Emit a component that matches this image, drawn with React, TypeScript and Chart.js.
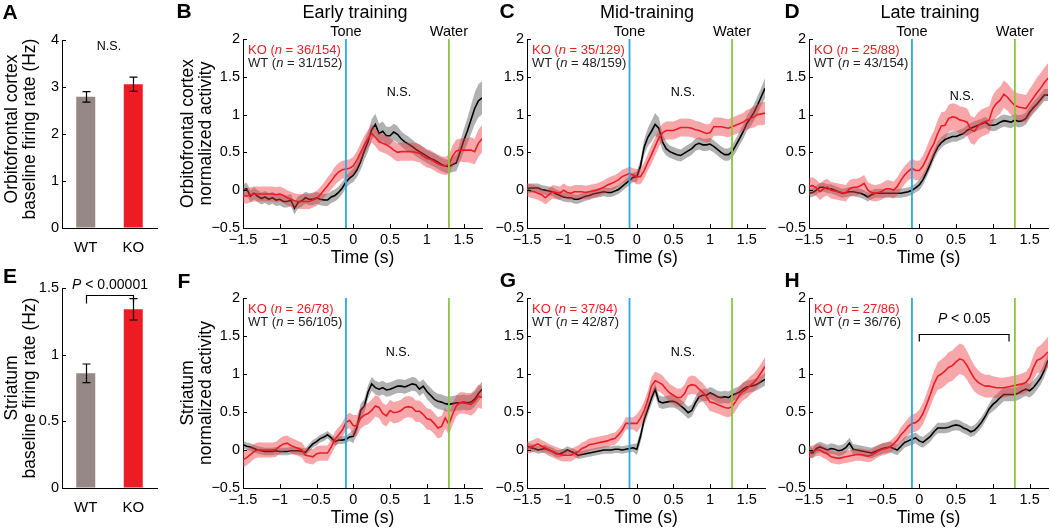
import React, { useEffect, useRef } from "react";
import { Chart, registerables } from "chart.js";

Chart.register(...registerables);

const W = 1050;
const H = 528;
const FONT = '"Liberation Sans", Arial, Helvetica, sans-serif';
const RED = "#ed1c24";
const RED_BAND = "rgba(238, 60, 66, 0.45)";
const GREY_BAND = "rgba(60, 60, 60, 0.40)";
const TONE_COLOR = "#27aae1";
const WATER_COLOR = "#8cc63f";
const WT_BAR_COLOR = "#958885";
const Y_AXIS_W = 40;
const X_AXIS_H = 30;

// ---------- data ----------
const TIME = [-1.5,-1.45,-1.4,-1.35,-1.3,-1.25,-1.2,-1.15,-1.1,-1.05,-1,-0.95,-0.9,-0.85,-0.8,-0.75,-0.7,-0.65,-0.6,-0.55,-0.5,-0.45,-0.4,-0.35,-0.3,-0.25,-0.2,-0.15,-0.1,-0.05,0,0.05,0.1,0.15,0.2,0.25,0.3,0.35,0.4,0.45,0.5,0.55,0.6,0.65,0.7,0.75,0.8,0.85,0.9,0.95,1,1.05,1.1,1.15,1.2,1.25,1.3,1.35,1.4,1.45,1.5,1.55,1.6,1.65,1.7,1.75];
const TIME_TICKS = [-1.5, -1, -0.5, 0, 0.5, 1, 1.5];
const ACTIVITY_TICKS = [-0.5, 0, 0.5, 1, 1.5, 2];
const TONE_T = -0.1;
const WATER_T = 1.3;

const GROUPS = ["WT", "KO"];
const OFC_RATE = [2.79, 3.06];
const OFC_RATE_ERR = [0.11, 0.15];
const OFC_RATE_TICKS = [0, 1, 2, 3, 4];
const STR_RATE = [0.86, 1.34];
const STR_RATE_ERR = [0.07, 0.08];
const STR_RATE_TICKS = [0, 0.5, 1, 1.5];

// B: OFC early training
const B_KO = [-0.07,-0.08,-0.06,-0.05,-0.05,-0.05,-0.05,-0.05,-0.05,-0.06,
-0.05,-0.07,-0.1,-0.12,-0.14,-0.15,-0.15,-0.15,-0.15,-0.13,
-0.11,-0.06,0.0,0.06,0.12,0.19,0.24,0.27,0.28,0.29,
0.32,0.4,0.5,0.6,0.68,0.75,0.7,0.64,0.62,0.6,
0.57,0.53,0.5,0.51,0.51,0.51,0.51,0.5,0.49,0.45,
0.42,0.41,0.38,0.35,0.33,0.32,0.34,0.45,0.52,0.53,
0.53,0.53,0.53,0.51,0.62,0.68];
const B_KO_SEM = [0.1,0.1,0.1,0.1,0.1,0.1,0.1,0.1,0.1,0.1,
0.1,0.1,0.1,0.1,0.1,0.1,0.1,0.1,0.1,0.1,
0.1,0.1,0.1,0.11,0.11,0.12,0.12,0.12,0.12,0.12,
0.12,0.12,0.12,0.12,0.12,0.12,0.12,0.12,0.12,0.12,
0.12,0.12,0.12,0.12,0.12,0.12,0.12,0.12,0.12,0.12,
0.12,0.12,0.12,0.12,0.12,0.12,0.13,0.14,0.15,0.15,
0.16,0.16,0.17,0.17,0.18,0.18];
const B_WT = [0.0,0.02,-0.08,-0.04,-0.08,-0.11,-0.09,-0.12,-0.1,-0.13,
-0.12,-0.15,-0.15,-0.13,-0.24,-0.16,-0.14,-0.1,-0.12,-0.12,
-0.1,-0.12,-0.13,-0.13,-0.09,-0.07,-0.03,0.03,0.11,0.16,
0.2,0.27,0.38,0.52,0.64,0.8,0.87,0.75,0.78,0.72,
0.72,0.77,0.74,0.68,0.64,0.61,0.58,0.54,0.51,0.48,
0.45,0.42,0.4,0.37,0.34,0.32,0.31,0.34,0.36,0.5,
0.65,0.78,0.93,1.08,1.18,1.22];
const B_WT_SEM = [0.08,0.08,0.08,0.08,0.08,0.08,0.08,0.08,0.08,0.08,
0.08,0.08,0.08,0.08,0.08,0.08,0.08,0.08,0.08,0.08,
0.08,0.08,0.08,0.08,0.08,0.08,0.08,0.08,0.08,0.08,
0.09,0.1,0.11,0.12,0.13,0.14,0.14,0.13,0.13,0.12,
0.12,0.11,0.11,0.1,0.1,0.1,0.09,0.09,0.09,0.09,
0.09,0.09,0.09,0.09,0.09,0.09,0.09,0.1,0.11,0.13,
0.15,0.17,0.19,0.21,0.22,0.22];

// C: OFC mid-training
const C_KO = [0.01,-0.01,-0.02,-0.04,-0.06,-0.1,-0.06,-0.02,-0.03,-0.04,
0.0,-0.03,-0.04,-0.02,-0.02,-0.02,-0.03,-0.02,-0.01,0.0,
0.02,0.04,0.07,0.09,0.11,0.14,0.18,0.2,0.22,0.2,
0.18,0.18,0.26,0.37,0.47,0.58,0.69,0.76,0.79,0.79,
0.79,0.81,0.83,0.83,0.83,0.82,0.8,0.79,0.77,0.75,
0.76,0.84,0.84,0.84,0.83,0.82,0.84,0.86,0.88,0.9,
0.93,0.95,0.97,1.0,1.01,1.02];
const C_KO_SEM = [0.09,0.09,0.09,0.09,0.09,0.09,0.09,0.09,0.09,0.09,
0.09,0.09,0.09,0.09,0.09,0.09,0.09,0.09,0.09,0.09,
0.09,0.09,0.09,0.09,0.09,0.09,0.09,0.09,0.09,0.09,
0.1,0.1,0.11,0.11,0.12,0.12,0.12,0.12,0.12,0.12,
0.12,0.12,0.12,0.12,0.12,0.12,0.12,0.12,0.12,0.12,
0.12,0.12,0.12,0.12,0.12,0.12,0.12,0.12,0.12,0.12,
0.13,0.13,0.14,0.14,0.15,0.15];
const C_WT = [0.02,0.03,0.03,0.03,0.01,0.0,-0.01,-0.02,-0.05,-0.07,
-0.09,-0.1,-0.1,-0.12,-0.12,-0.1,-0.08,-0.07,-0.05,-0.04,
-0.03,-0.02,-0.03,-0.03,-0.01,0.01,0.05,0.09,0.13,0.17,
0.18,0.32,0.57,0.7,0.78,0.87,0.82,0.64,0.55,0.51,
0.49,0.47,0.46,0.49,0.52,0.55,0.6,0.62,0.6,0.6,
0.61,0.58,0.54,0.5,0.47,0.47,0.51,0.59,0.68,0.77,
0.88,0.95,1.03,1.13,1.24,1.35];
const C_WT_SEM = [0.06,0.06,0.06,0.06,0.06,0.06,0.06,0.06,0.06,0.06,
0.06,0.06,0.06,0.06,0.06,0.06,0.06,0.06,0.06,0.06,
0.06,0.06,0.06,0.06,0.06,0.06,0.06,0.06,0.06,0.06,
0.07,0.08,0.1,0.12,0.14,0.15,0.14,0.11,0.09,0.08,
0.08,0.08,0.08,0.08,0.08,0.08,0.08,0.08,0.08,0.08,
0.08,0.08,0.08,0.08,0.08,0.08,0.08,0.09,0.09,0.1,
0.1,0.11,0.11,0.12,0.12,0.13];

// D: OFC late training
const D_KO = [0.05,0.06,0.03,-0.02,0.02,0.04,0.0,-0.01,-0.02,-0.03,
-0.04,0.02,0.04,0.04,0.06,0.09,0.0,-0.03,-0.04,-0.03,
-0.01,0.02,0.02,0.0,0.05,0.13,0.2,0.25,0.29,0.26,
0.26,0.32,0.42,0.53,0.62,0.75,0.85,0.86,0.95,0.97,
0.96,0.93,0.92,0.9,0.8,0.78,0.85,0.89,0.91,0.93,
1.08,1.15,1.19,1.27,1.23,1.17,1.12,1.1,1.09,1.08,
1.15,1.22,1.29,1.35,1.42,1.48];
const D_KO_SEM = [0.11,0.11,0.11,0.11,0.11,0.11,0.11,0.11,0.11,0.11,
0.11,0.11,0.11,0.11,0.11,0.11,0.11,0.11,0.11,0.11,
0.11,0.11,0.11,0.11,0.12,0.12,0.12,0.12,0.13,0.13,
0.13,0.14,0.15,0.16,0.17,0.18,0.18,0.18,0.18,0.18,
0.18,0.18,0.18,0.18,0.18,0.18,0.18,0.18,0.18,0.18,
0.18,0.18,0.18,0.18,0.18,0.18,0.18,0.18,0.18,0.18,
0.19,0.19,0.2,0.2,0.2,0.2];
const D_WT = [-0.04,-0.03,0.0,0.04,0.04,0.02,0.02,0.0,-0.02,-0.04,
-0.03,-0.02,-0.02,-0.03,-0.04,-0.06,-0.09,-0.06,-0.04,-0.04,
-0.04,-0.04,-0.04,-0.04,-0.04,-0.04,-0.03,-0.02,0.0,0.03,
0.07,0.14,0.24,0.35,0.47,0.57,0.63,0.67,0.69,0.71,
0.71,0.73,0.75,0.79,0.82,0.84,0.86,0.88,0.9,0.86,
0.86,0.87,0.9,0.92,0.91,0.9,0.93,0.91,0.92,0.95,
1.03,1.09,1.14,1.2,1.26,1.26];
const D_WT_SEM = [0.06,0.06,0.06,0.06,0.06,0.06,0.06,0.06,0.06,0.06,
0.06,0.06,0.06,0.06,0.06,0.06,0.06,0.06,0.06,0.06,
0.06,0.06,0.06,0.06,0.06,0.06,0.06,0.06,0.06,0.06,
0.07,0.07,0.07,0.07,0.07,0.07,0.07,0.07,0.07,0.07,
0.07,0.07,0.07,0.07,0.07,0.07,0.07,0.07,0.07,0.07,
0.08,0.08,0.08,0.08,0.08,0.08,0.08,0.08,0.08,0.08,
0.08,0.08,0.08,0.08,0.08,0.08];

// F: striatum early training
const F_KO = [-0.13,-0.1,-0.06,-0.02,0.0,0.0,0.0,0.0,0.0,0.01,
0.05,0.08,0.09,0.06,0.04,0.02,0.0,-0.07,-0.08,-0.09,
-0.05,-0.04,-0.04,-0.04,0.04,0.14,0.2,0.26,0.36,0.39,
0.32,0.32,0.42,0.46,0.48,0.52,0.58,0.56,0.48,0.45,
0.52,0.49,0.5,0.52,0.56,0.57,0.56,0.51,0.51,0.47,
0.41,0.4,0.35,0.29,0.31,0.42,0.34,0.47,0.58,0.62,
0.62,0.61,0.6,0.64,0.71,0.69];
const F_KO_SEM = [0.1,0.1,0.1,0.1,0.1,0.1,0.1,0.1,0.1,0.1,
0.1,0.1,0.1,0.1,0.1,0.1,0.1,0.1,0.1,0.1,
0.1,0.1,0.1,0.1,0.1,0.1,0.1,0.1,0.1,0.1,
0.14,0.14,0.14,0.14,0.14,0.14,0.14,0.14,0.14,0.14,
0.14,0.14,0.14,0.14,0.14,0.14,0.14,0.14,0.14,0.14,
0.14,0.14,0.14,0.14,0.14,0.14,0.14,0.14,0.14,0.14,
0.14,0.14,0.15,0.15,0.15,0.15];
const F_WT = [0.07,0.05,0.04,0.02,0.0,-0.01,-0.02,-0.02,-0.02,-0.01,
-0.02,-0.02,-0.02,-0.01,-0.01,-0.01,-0.02,-0.03,0.03,0.08,
0.11,0.15,0.17,0.2,0.16,0.11,0.13,0.13,0.14,0.17,
0.18,0.3,0.52,0.58,0.76,0.87,0.82,0.8,0.82,0.79,
0.8,0.82,0.84,0.84,0.83,0.85,0.87,0.86,0.8,0.84,
0.77,0.72,0.67,0.64,0.63,0.61,0.6,0.61,0.62,0.62,
0.63,0.62,0.63,0.67,0.74,0.8];
const F_WT_SEM = [0.05,0.05,0.05,0.05,0.05,0.05,0.05,0.05,0.05,0.05,
0.05,0.05,0.05,0.05,0.05,0.05,0.05,0.05,0.05,0.05,
0.05,0.05,0.05,0.05,0.05,0.05,0.05,0.05,0.05,0.05,
0.09,0.09,0.09,0.09,0.09,0.09,0.09,0.09,0.09,0.09,
0.09,0.09,0.09,0.09,0.09,0.09,0.09,0.09,0.09,0.09,
0.1,0.1,0.1,0.1,0.1,0.1,0.1,0.1,0.1,0.1,
0.1,0.1,0.1,0.1,0.1,0.1];

// G: striatum mid-training
const G_KO = [0.03,0.04,0.06,0.08,0.05,0.03,0.0,-0.02,-0.04,-0.06,
-0.07,-0.07,-0.07,-0.04,-0.02,0.02,0.04,0.07,0.08,0.09,
0.1,0.11,0.12,0.14,0.15,0.2,0.26,0.35,0.35,0.35,
0.35,0.42,0.52,0.66,0.84,0.91,0.89,0.86,0.8,0.75,
0.72,0.69,0.69,0.74,0.84,0.86,0.85,0.8,0.76,0.7,
0.63,0.62,0.6,0.58,0.56,0.55,0.57,0.64,0.72,0.77,
0.8,0.85,0.89,0.95,1.02,1.1];
const G_KO_SEM = [0.08,0.08,0.08,0.08,0.08,0.08,0.08,0.08,0.08,0.08,
0.08,0.08,0.08,0.08,0.08,0.08,0.08,0.08,0.08,0.08,
0.08,0.08,0.08,0.08,0.08,0.08,0.08,0.08,0.08,0.08,
0.12,0.12,0.12,0.12,0.12,0.12,0.12,0.12,0.12,0.12,
0.12,0.12,0.12,0.12,0.12,0.12,0.12,0.12,0.12,0.12,
0.12,0.12,0.12,0.12,0.12,0.12,0.12,0.12,0.12,0.12,
0.12,0.12,0.12,0.12,0.12,0.12];
const G_WT = [0.05,0.03,0.02,0.0,0.01,0.02,0.0,-0.02,-0.05,-0.05,
-0.03,0.0,-0.02,-0.04,-0.07,-0.06,-0.05,-0.04,-0.03,-0.02,
-0.01,0.0,0.0,0.0,0.01,0.01,0.0,0.01,0.02,0.03,
0.01,0.18,0.4,0.54,0.68,0.8,0.64,0.62,0.63,0.64,
0.64,0.62,0.58,0.54,0.49,0.52,0.62,0.7,0.72,0.72,
0.75,0.73,0.7,0.69,0.7,0.69,0.72,0.74,0.76,0.8,
0.83,0.84,0.85,0.87,0.9,0.93];
const G_WT_SEM = [0.05,0.05,0.05,0.05,0.05,0.05,0.05,0.05,0.05,0.05,
0.05,0.05,0.05,0.05,0.05,0.05,0.05,0.05,0.05,0.05,
0.05,0.05,0.05,0.05,0.05,0.05,0.05,0.05,0.05,0.05,
0.08,0.08,0.08,0.08,0.08,0.08,0.08,0.08,0.08,0.08,
0.08,0.08,0.08,0.08,0.08,0.08,0.08,0.08,0.08,0.08,
0.08,0.08,0.08,0.08,0.08,0.08,0.08,0.08,0.08,0.08,
0.08,0.08,0.08,0.08,0.08,0.08];

// H: striatum late training
const H_KO = [-0.03,-0.02,0.0,0.0,-0.03,-0.05,-0.09,-0.1,-0.11,-0.1,
-0.09,-0.08,-0.07,-0.06,-0.06,-0.07,-0.08,-0.07,-0.04,-0.01,
0.01,0.02,0.04,0.08,0.13,0.2,0.25,0.31,0.35,0.36,
0.4,0.48,0.6,0.73,0.87,0.97,1.0,1.04,1.09,1.11,
1.16,1.2,1.18,1.11,1.02,0.94,0.89,0.86,0.84,0.84,
0.83,0.82,0.82,0.82,0.83,0.84,0.85,0.86,0.87,0.89,
0.95,1.08,1.18,1.2,1.24,1.29];
const H_KO_SEM = [0.08,0.08,0.08,0.08,0.08,0.08,0.08,0.08,0.08,0.08,
0.08,0.08,0.08,0.08,0.08,0.08,0.08,0.08,0.08,0.08,
0.08,0.08,0.08,0.08,0.08,0.1,0.11,0.11,0.12,0.12,
0.13,0.14,0.15,0.16,0.17,0.18,0.19,0.19,0.2,0.2,
0.2,0.2,0.2,0.19,0.18,0.17,0.16,0.15,0.15,0.15,
0.14,0.14,0.13,0.13,0.13,0.13,0.13,0.13,0.14,0.14,
0.15,0.16,0.17,0.18,0.19,0.2];
const H_WT = [-0.03,-0.04,0.02,0.04,0.02,0.0,0.02,0.01,-0.01,0.0,
0.03,0.09,0.01,0.0,-0.01,-0.02,-0.03,-0.04,-0.02,0.0,
0.02,0.03,0.04,0.02,0.0,0.05,0.1,0.12,0.14,0.16,
0.12,0.1,0.14,0.18,0.24,0.29,0.29,0.29,0.3,0.32,
0.33,0.32,0.29,0.27,0.24,0.26,0.31,0.37,0.45,0.54,
0.6,0.64,0.69,0.73,0.73,0.73,0.73,0.75,0.78,0.8,
0.78,0.82,0.88,0.95,1.05,1.18];
const H_WT_SEM = [0.07,0.07,0.07,0.07,0.07,0.07,0.07,0.07,0.07,0.07,
0.07,0.07,0.07,0.07,0.07,0.07,0.07,0.07,0.07,0.07,
0.07,0.07,0.07,0.07,0.07,0.07,0.07,0.07,0.07,0.07,
0.07,0.07,0.07,0.07,0.07,0.07,0.07,0.07,0.07,0.07,
0.07,0.07,0.07,0.07,0.07,0.07,0.07,0.07,0.07,0.07,
0.09,0.09,0.09,0.09,0.09,0.09,0.09,0.09,0.09,0.09,
0.09,0.09,0.09,0.09,0.09,0.09];

const H_BRACKET_T = [0, 1.22];
const H_BRACKET_Y = 1.52;
const E_BRACKET_Y = 1.45;

// ---------- helpers ----------
type Box = { left: number; top: number; right: number; bottom: number };

function paddingFor(area: Box) {
  return {
    left: area.left - Y_AXIS_W,
    top: area.top,
    right: W - area.right,
    bottom: H - area.bottom - X_AXIS_H,
  };
}

function fmtTick(v: number) {
  return v < 0 ? "\u2212" + String(Math.abs(v)) : String(v);
}

function fixedTicks(values: number[]) {
  return (scale: any) => {
    scale.ticks = values.map((value) => ({ value }));
  };
}

type Part = [string, boolean];

function drawParts(ctx: any, parts: Part[], x: number, y: number, size: number, color: string, align: "left" | "center" = "left") {
  ctx.save();
  ctx.fillStyle = color;
  ctx.textBaseline = "middle";
  ctx.textAlign = "left";
  const fontOf = (it: boolean) => `${it ? "italic " : ""}${size}px ${FONT}`;
  let total = 0;
  for (const [t, it] of parts) {
    ctx.font = fontOf(it);
    total += ctx.measureText(t).width;
  }
  let cx = align === "center" ? x - total / 2 : x;
  for (const [t, it] of parts) {
    ctx.font = fontOf(it);
    ctx.fillText(t, cx, y);
    cx += ctx.measureText(t).width;
  }
  ctx.restore();
}

function drawText(ctx: any, text: string, x: number, y: number, size: number, opts: any = {}) {
  ctx.save();
  ctx.fillStyle = opts.color || "#000";
  ctx.font = `${opts.bold ? "bold " : ""}${size}px ${FONT}`;
  ctx.textAlign = opts.align || "center";
  ctx.textBaseline = "middle";
  if (opts.rotate) {
    ctx.translate(x, y);
    ctx.rotate(-Math.PI / 2);
    ctx.fillText(text, 0, 0);
  } else {
    ctx.fillText(text, x, y);
  }
  ctx.restore();
}

function inwardTicks(chart: any, xTicks: boolean) {
  const { ctx, chartArea: a } = chart;
  const xs = chart.scales.x;
  const ys = chart.scales.y;
  ctx.save();
  ctx.strokeStyle = "#000";
  ctx.lineWidth = 1;
  ctx.beginPath();
  if (xTicks) {
    xs.ticks.forEach((t: any) => {
      const px = Math.round(xs.getPixelForValue(t.value)) + 0.5;
      ctx.moveTo(px, a.bottom);
      ctx.lineTo(px, a.bottom - 4);
    });
  }
  ys.ticks.forEach((t: any) => {
    const py = Math.round(ys.getPixelForValue(t.value)) + 0.5;
    ctx.moveTo(a.left, py);
    ctx.lineTo(a.left + 4, py);
  });
  ctx.stroke();
  ctx.restore();
}

function axisOptions(extra: any) {
  return {
    grid: { display: true, drawOnChartArea: false, drawTicks: false },
    border: { display: true, color: "#000", width: 1 },
    ...extra,
  };
}

// ---------- panels ----------
type LinePanel = {
  letter: string;
  letterPos: [number, number];
  area: Box;
  ko: number[];
  koSem: number[];
  wt: number[];
  wtSem: number[];
  koN: string;
  wtN: string;
  title?: [string, number];
  showEvents: boolean;
  yTitle?: [string, string];
  ns?: [number, number];
  bracket?: boolean;
};

const TOP = 39;
const TOP_BOTTOM = 228;
const BOT = 298;
const BOT_BOTTOM = 488;

const LINE_PANELS: LinePanel[] = [
  { letter: "B", letterPos: [184, 12], area: { left: 243, top: TOP, right: 482, bottom: TOP_BOTTOM },
    ko: B_KO, koSem: B_KO_SEM, wt: B_WT, wtSem: B_WT_SEM, koN: "36/154", wtN: "31/152",
    title: ["Early training", 355], showEvents: true, yTitle: ["Orbitofrontal cortex", "normalized activity"], ns: [399, 93] },
  { letter: "C", letterPos: [507, 12], area: { left: 527, top: TOP, right: 765, bottom: TOP_BOTTOM },
    ko: C_KO, koSem: C_KO_SEM, wt: C_WT, wtSem: C_WT_SEM, koN: "35/129", wtN: "48/159",
    title: ["Mid-training", 647], showEvents: true, ns: [683, 93] },
  { letter: "D", letterPos: [792, 12], area: { left: 809, top: TOP, right: 1048, bottom: TOP_BOTTOM },
    ko: D_KO, koSem: D_KO_SEM, wt: D_WT, wtSem: D_WT_SEM, koN: "25/88", wtN: "43/154",
    title: ["Late training", 930], showEvents: true, ns: [962, 97] },
  { letter: "F", letterPos: [184, 282], area: { left: 243, top: BOT, right: 482, bottom: BOT_BOTTOM },
    ko: F_KO, koSem: F_KO_SEM, wt: F_WT, wtSem: F_WT_SEM, koN: "26/78", wtN: "56/105",
    showEvents: false, yTitle: ["Striatum", "normalized activity"], ns: [398, 353] },
  { letter: "G", letterPos: [508, 281], area: { left: 527, top: BOT, right: 765, bottom: BOT_BOTTOM },
    ko: G_KO, koSem: G_KO_SEM, wt: G_WT, wtSem: G_WT_SEM, koN: "37/94", wtN: "42/87",
    showEvents: false, ns: [683, 353] },
  { letter: "H", letterPos: [792, 281], area: { left: 809, top: BOT, right: 1048, bottom: BOT_BOTTOM },
    ko: H_KO, koSem: H_KO_SEM, wt: H_WT, wtSem: H_WT_SEM, koN: "27/86", wtN: "36/76",
    showEvents: false, bracket: true },
];

type BarPanel = {
  letter: string;
  letterPos: [number, number];
  area: Box;
  means: number[];
  errs: number[];
  ticks: number[];
  yTitle: [string, string];
  titleCY: number;
  ns?: [number, number];
  bracket?: boolean;
};

const BAR_PANELS: BarPanel[] = [
  { letter: "A", letterPos: [10, 13], area: { left: 62, top: 40, right: 157, bottom: 228 },
    means: OFC_RATE, errs: OFC_RATE_ERR, ticks: OFC_RATE_TICKS,
    yTitle: ["Orbitofrontal cortex", "baseline firing rate (Hz)"], titleCY: 129, ns: [109, 47] },
  { letter: "E", letterPos: [10, 277], area: { left: 62, top: 288, right: 157, bottom: 488 },
    means: STR_RATE, errs: STR_RATE_ERR, ticks: STR_RATE_TICKS,
    yTitle: ["Striatum", "baseline firing rate (Hz)"], titleCY: 388, bracket: true },
];

function makeLineChart(canvas: HTMLCanvasElement, p: LinePanel) {
  const pts = (arr: number[]) => TIME.map((t, i) => ({ x: t, y: arr[i] }));
  const up = (m: number[], s: number[]) => m.map((v, i) => v + s[i]);
  const lo = (m: number[], s: number[]) => m.map((v, i) => v - s[i]);
  const none = "rgba(0,0,0,0)";

  const plugin = {
    id: "panel" + p.letter,
    afterDraw(chart: any) {
      const { ctx, chartArea: a } = chart;
      const xs = chart.scales.x;
      const ys = chart.scales.y;
      inwardTicks(chart, true);

      const events: [number, string, string][] = [
        [TONE_T, TONE_COLOR, "Tone"],
        [WATER_T, WATER_COLOR, "Water"],
      ];
      for (const [t, col, label] of events) {
        const px = xs.getPixelForValue(t);
        ctx.save();
        ctx.strokeStyle = col;
        ctx.lineWidth = 1.8;
        ctx.beginPath();
        ctx.moveTo(px, a.top);
        ctx.lineTo(px, a.bottom);
        ctx.stroke();
        ctx.restore();
        if (p.showEvents) drawText(ctx, label, px, a.top - 7, 14.5);
      }

      drawParts(ctx, [["KO (", false], ["n", true], [` = ${p.koN})`, false]], a.left + 5, a.top + 11.5, 13, RED);
      drawParts(ctx, [["WT (", false], ["n", true], [` = ${p.wtN})`, false]], a.left + 5, a.top + 24.5, 13, "#222");

      if (p.ns) drawText(ctx, "N.S.", p.ns[0], p.ns[1], 12.5);

      if (p.bracket) {
        const x0 = xs.getPixelForValue(H_BRACKET_T[0]);
        const x1 = xs.getPixelForValue(H_BRACKET_T[1]);
        const yb = Math.round(ys.getPixelForValue(H_BRACKET_Y)) + 0.5;
        ctx.save();
        ctx.strokeStyle = "#000";
        ctx.lineWidth = 1.2;
        ctx.beginPath();
        ctx.moveTo(x0, yb + 7);
        ctx.lineTo(x0, yb);
        ctx.lineTo(x1, yb);
        ctx.lineTo(x1, yb + 7);
        ctx.stroke();
        ctx.restore();
        drawParts(ctx, [["P", true], [" < 0.05", false]], (x0 + x1) / 2, yb - 15, 14, "#000", "center");
      }

      drawText(ctx, "Time (s)", (a.left + a.right) / 2, a.bottom + 30, 17.5);
      if (p.yTitle) {
        const cy = (a.top + a.bottom) / 2;
        drawText(ctx, p.yTitle[0], 188, cy, 17.5, { rotate: true });
        drawText(ctx, p.yTitle[1], 206, cy, 17.5, { rotate: true });
      }
      if (p.title) drawText(ctx, p.title[0], p.title[1], 13, 18);
      drawText(ctx, p.letter, p.letterPos[0], p.letterPos[1], 21, { bold: true });
    },
  };

  const lineDs = (data: any, color: string) => ({
    data, borderColor: color, borderWidth: 1.6, pointRadius: 0, fill: false,
  });
  const bandDs = (data: any, fill: any, bg: string) => ({
    data, borderColor: none, borderWidth: 1, pointRadius: 0, fill, backgroundColor: bg,
  });

  return new Chart(canvas, {
    type: "line",
    data: {
      datasets: [
        lineDs(pts(p.ko), RED),
        bandDs(pts(up(p.ko, p.koSem)), "+1", RED_BAND),
        bandDs(pts(lo(p.ko, p.koSem)), false, none),
        lineDs(pts(p.wt), "#000"),
        bandDs(pts(up(p.wt, p.wtSem)), "+1", GREY_BAND),
        bandDs(pts(lo(p.wt, p.wtSem)), false, none),
      ],
    },
    options: {
      animation: false,
      responsive: false,
      devicePixelRatio: 1,
      events: [],
      layout: { padding: paddingFor(p.area) },
      plugins: { legend: { display: false }, tooltip: { enabled: false } },
      scales: {
        x: axisOptions({
          type: "linear",
          min: -1.5,
          max: 1.75,
          afterBuildTicks: fixedTicks(TIME_TICKS),
          afterFit: (s: any) => { s.height = X_AXIS_H; },
          ticks: { color: "#000", padding: 3, font: { family: FONT, size: 14.5 }, callback: (v: any) => fmtTick(Number(v)), maxRotation: 0, autoSkip: false },
        }),
        y: axisOptions({
          type: "linear",
          min: -0.5,
          max: 2,
          afterBuildTicks: fixedTicks(ACTIVITY_TICKS),
          afterFit: (s: any) => { s.width = Y_AXIS_W; },
          ticks: { color: "#000", padding: 3, font: { family: FONT, size: 14.5 }, callback: (v: any) => fmtTick(Number(v)) },
        }),
      },
    } as any,
    plugins: [plugin],
  });
}

function makeBarChart(canvas: HTMLCanvasElement, p: BarPanel) {
  const plugin = {
    id: "bar" + p.letter,
    afterDraw(chart: any) {
      const { ctx, chartArea: a } = chart;
      const xs = chart.scales.x;
      const ys = chart.scales.y;
      inwardTicks(chart, false);

      ctx.save();
      ctx.strokeStyle = "#000";
      ctx.lineWidth = 1.2;
      p.means.forEach((m, i) => {
        const px = Math.round(xs.getPixelForValue(i)) + 0.5;
        const y1 = ys.getPixelForValue(m + p.errs[i]);
        const y2 = ys.getPixelForValue(m - p.errs[i]);
        ctx.beginPath();
        ctx.moveTo(px, y1);
        ctx.lineTo(px, y2);
        ctx.moveTo(px - 4, y1);
        ctx.lineTo(px + 4, y1);
        ctx.moveTo(px - 4, y2);
        ctx.lineTo(px + 4, y2);
        ctx.stroke();
      });
      ctx.restore();

      if (p.ns) drawText(ctx, "N.S.", p.ns[0], p.ns[1], 12.5);
      if (p.bracket) {
        const x0 = Math.round(xs.getPixelForValue(0)) + 0.5;
        const x1 = Math.round(xs.getPixelForValue(1)) + 0.5;
        const yb = Math.round(ys.getPixelForValue(E_BRACKET_Y)) + 0.5;
        ctx.save();
        ctx.strokeStyle = "#000";
        ctx.lineWidth = 1.2;
        ctx.beginPath();
        ctx.moveTo(x0, yb + 8);
        ctx.lineTo(x0, yb);
        ctx.lineTo(x1, yb);
        ctx.lineTo(x1, yb + 8);
        ctx.stroke();
        ctx.restore();
        drawParts(ctx, [["P", true], [" < 0.00001", false]], (x0 + x1) / 2, yb - 10, 14, "#000", "center");
      }
      drawText(ctx, p.yTitle[0], 12, p.titleCY, 17.5, { rotate: true });
      drawText(ctx, p.yTitle[1], 30, p.titleCY, 17.5, { rotate: true });
      drawText(ctx, p.letter, p.letterPos[0], p.letterPos[1], 21, { bold: true });
    },
  };

  return new Chart(canvas, {
    type: "bar",
    data: {
      labels: GROUPS,
      datasets: [
        {
          data: p.means,
          backgroundColor: [WT_BAR_COLOR, RED],
          borderWidth: 0,
          barPercentage: 0.4,
          categoryPercentage: 1,
        },
      ],
    },
    options: {
      animation: false,
      responsive: false,
      devicePixelRatio: 1,
      events: [],
      layout: { padding: paddingFor(p.area) },
      plugins: { legend: { display: false }, tooltip: { enabled: false } },
      scales: {
        x: axisOptions({
          type: "category",
          afterFit: (s: any) => { s.height = X_AXIS_H; },
          ticks: { color: "#000", padding: 11, font: { family: FONT, size: 15 } },
        }),
        y: axisOptions({
          type: "linear",
          min: 0,
          max: p.ticks[p.ticks.length - 1],
          afterBuildTicks: fixedTicks(p.ticks),
          afterFit: (s: any) => { s.width = Y_AXIS_W; },
          ticks: { color: "#000", padding: 3, font: { family: FONT, size: 14.5 }, callback: (v: any) => fmtTick(Number(v)) },
        }),
      },
    } as any,
    plugins: [plugin],
  });
}

export default function App() {
  const refs = useRef<(HTMLCanvasElement | null)[]>([]);
  useEffect(() => {
    const charts: Chart[] = [];
    BAR_PANELS.forEach((p, i) => {
      const c = refs.current[i];
      if (c) charts.push(makeBarChart(c, p));
    });
    LINE_PANELS.forEach((p, i) => {
      const c = refs.current[i + BAR_PANELS.length];
      if (c) charts.push(makeLineChart(c, p));
    });
    return () => charts.forEach((ch) => ch.destroy());
  }, []);
  const n = BAR_PANELS.length + LINE_PANELS.length;
  return (
    <div style={{ position: "fixed", left: 0, top: 0, width: W, height: H, background: "#fff", overflow: "hidden" }}>
      {Array.from({ length: n }).map((_, i) => (
        <canvas
          key={i}
          ref={(el) => { refs.current[i] = el; }}
          width={W}
          height={H}
          style={{ position: "absolute", left: 0, top: 0, width: W, height: H }}
        />
      ))}
    </div>
  );
}
